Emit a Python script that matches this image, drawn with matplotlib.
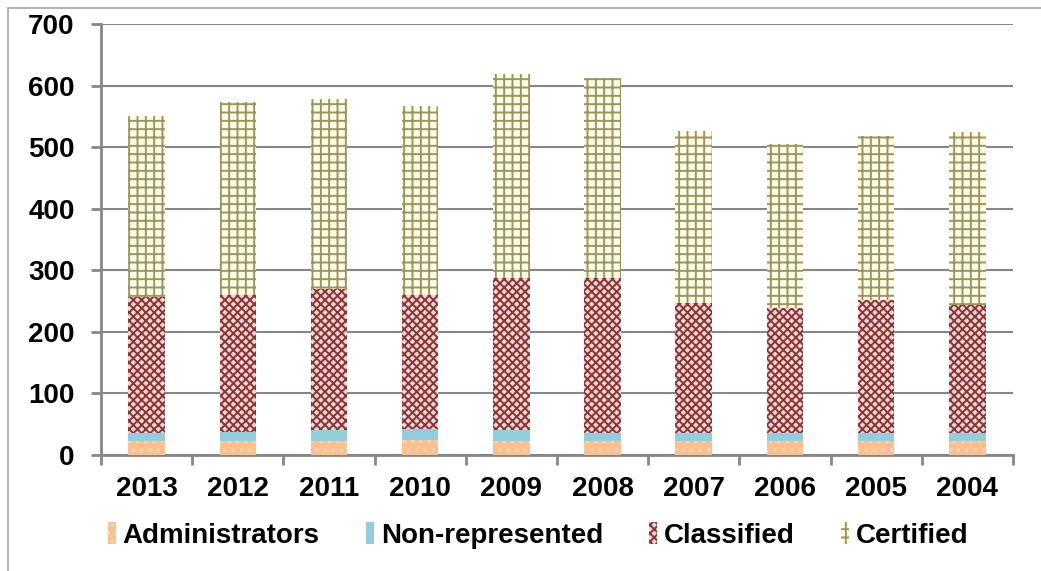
import matplotlib
matplotlib.use("Agg")
import matplotlib.pyplot as plt
import numpy as np
from matplotlib.patches import Rectangle

# ---------------------------------------------------------------------------
# Data
# ---------------------------------------------------------------------------
years          = ["2013", "2012", "2011", "2010", "2009", "2008", "2007", "2006", "2005", "2004"]
administrators = [22, 23, 23, 25, 23, 22, 22, 22, 22, 22]
non_represented = [14, 15, 17, 17, 17, 13, 14, 14, 14, 13]
classified     = [221, 222, 230, 218, 247, 252, 211, 202, 215, 209]
certified      = [293, 314, 308, 307, 331, 326, 279, 267, 267, 281]

series_names = ["Administrators", "Non-represented", "Classified", "Certified"]

# ---------------------------------------------------------------------------
# Style
# ---------------------------------------------------------------------------
plt.rcParams["font.family"] = ["Liberation Sans", "DejaVu Sans"]
plt.rcParams["font.weight"] = "bold"
plt.rcParams["hatch.linewidth"] = 1.4

GRID = "#868686"
FS = 20
styles = [
    dict(facecolor="#FAC090", edgecolor="#FCD3B0", hatch=".."),      # admin
    dict(facecolor="#92CDDC", edgecolor="#92CDDC", hatch=None),      # non-rep
    dict(facecolor="#EFD6D6", edgecolor="#8A3434", hatch="xxxx"),    # classified
    dict(facecolor="#FFFFE8", edgecolor="#9C9460", hatch="++"),      # certified
]

fig = plt.figure(figsize=(10.41, 5.71), dpi=100)
ax = fig.add_axes([0.097, 0.2032, 0.876, 0.7548])

# frame around the whole chart (only top/left visible in the reference)
fig.patches.append(Rectangle((7.5 / 1041, -0.05), 1.2, 1.05 - 8 / 571,
                             transform=fig.transFigure, fill=False,
                             edgecolor="#A6A6A6", linewidth=1.2))

x = np.arange(len(years))
width = 0.4
bottom = np.zeros(len(years))
handles = []
for vals, name, st in zip([administrators, non_represented, classified, certified],
                          series_names, styles):
    bars = ax.bar(x, vals, width, bottom=bottom, label=name,
                  linewidth=0, zorder=3, **st)
    handles.append(bars)
    bottom += np.array(vals)

ax.set_ylim(0, 700)
ax.set_xlim(-0.5, len(years) - 0.5)
ax.set_yticks(range(0, 701, 100))
ax.yaxis.grid(True, color=GRID, linewidth=1.5, zorder=0)
ax.set_axisbelow(True)

# category labels at bar centres, tick marks at category boundaries
ax.set_xticks(x)
ax.set_xticklabels(years, fontsize=FS, fontweight="bold")
ax.tick_params(axis="x", which="major", length=0, pad=15)
ax.set_xticks(np.arange(-0.5, len(years)), minor=True)
ax.tick_params(axis="x", which="minor", length=7, width=2, color=GRID)
ax.tick_params(axis="y", labelsize=FS, length=7, width=2, color=GRID, pad=12)
for lbl in ax.get_yticklabels():
    lbl.set_fontweight("bold")

for side in ["top", "right"]:
    ax.spines[side].set_visible(False)
for side in ["left", "bottom"]:
    ax.spines[side].set_color(GRID)
    ax.spines[side].set_linewidth(2)

leg = fig.legend(handles=handles, labels=series_names, loc="center",
                 bbox_to_anchor=(0.517, 0.062), ncol=4, frameon=False,
                 prop=dict(size=FS, weight="bold"),
                 handlelength=0.3, handleheight=0.8, handletextpad=0.25,
                 columnspacing=1.65)

fig.savefig("out.png", dpi=100)
